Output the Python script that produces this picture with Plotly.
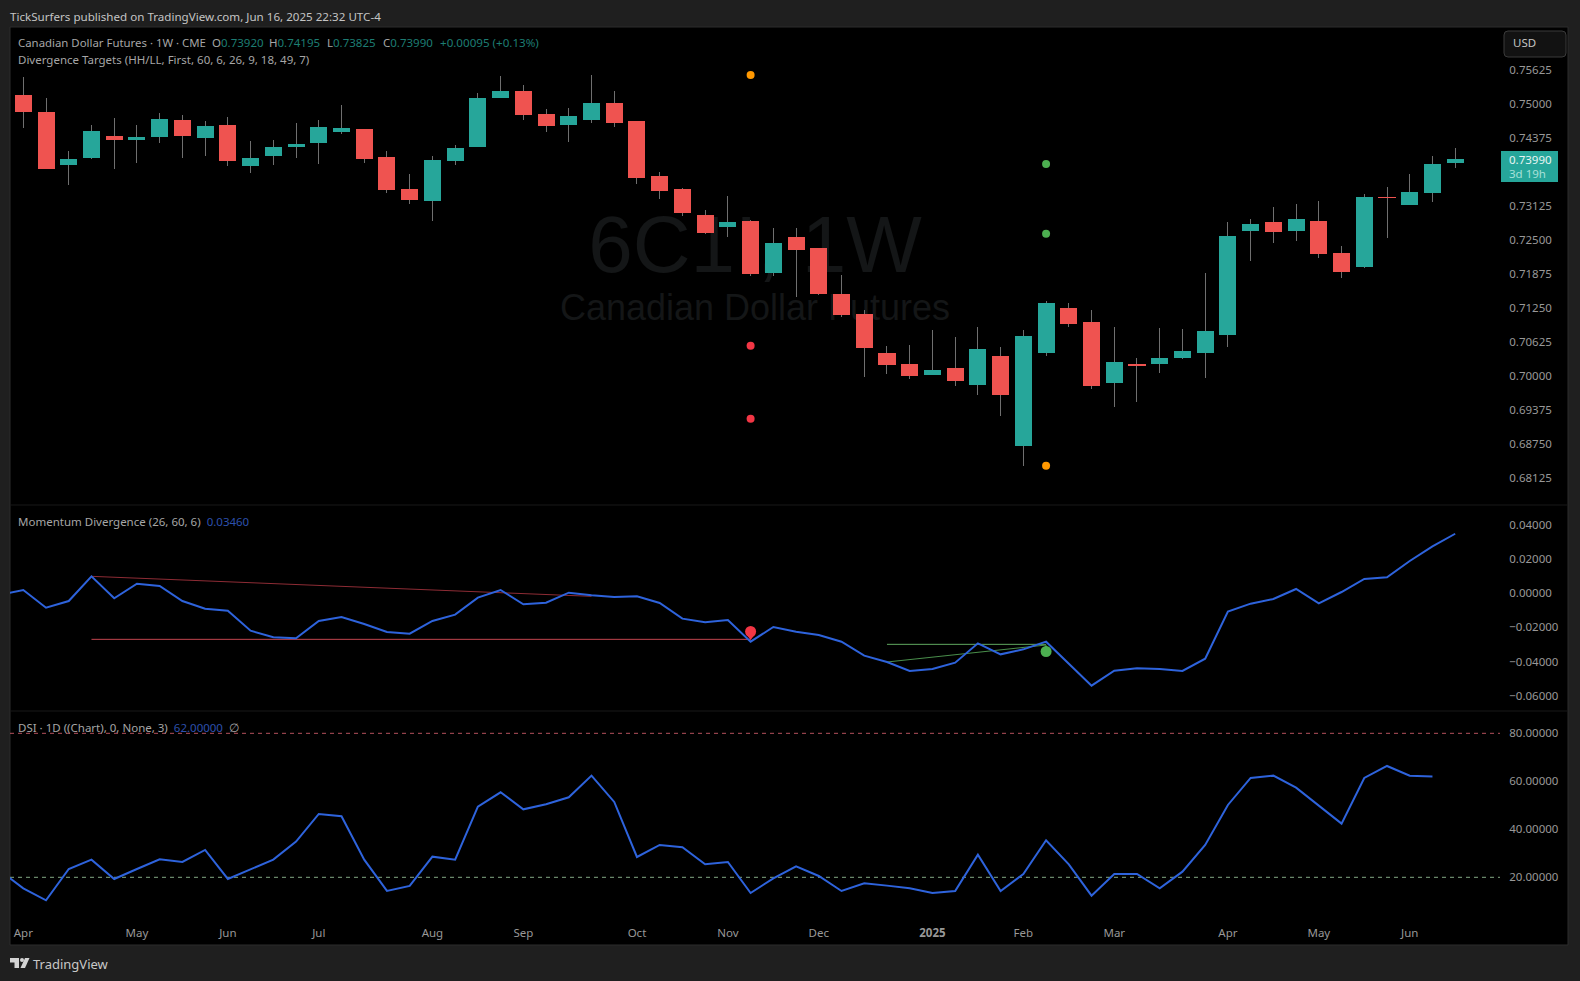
import pandas as pd
import plotly.graph_objects as go

W = 1580
H = 981
FONT = "Noto Sans"
RED = "#ef5350"
TEAL = "#26a69a"
BLUE = "#2e63dc"
TICK = "#989898"
LABEL = "#a6a6a6"
VALUE = "#1d7d73"

weeks = pd.date_range("2024-04-01", periods=64, freq="7D")
one_before = pd.Timestamp("2024-03-25")

opens = [.75165,.74853,.73879,.74007,.74412,.74338,.74393,.74706,.74375,.74614,.73860,.74044,.74210,.74283,.74485,.74540,
         .74026,.73438,.73217,.73952,.74210,.75110,.75239,.74816,.74614,.74706,.75018,.74688,.73676,.73438,.72960,.72739,
         .72849,.71893,.72555,.72353,.71507,.71140,.70423,.70221,.70018,.70147,.69835,.70368,.68713,.70423,.71250,.70993,
         .69871,.70221,.70221,.70331,.70423,.70754,.72665,.72831,.72665,.72849,.72261,.72004,.73290,.73143,.73364,.73920]
highs = [.75496,.75110,.74136,.74614,.74743,.74614,.74835,.74798,.74688,.74761,.74320,.74338,.74651,.74706,.74982,.74540,
         .74136,.73713,.74044,.74246,.75202,.75515,.75349,.74908,.74926,.75533,.75239,.74688,.73750,.73456,.73051,.73309,
         .72868,.72721,.72721,.72353,.71857,.71213,.70552,.70570,.70846,.70717,.70901,.70533,.70846,.71379,.71342,.71213,
         .70901,.70331,.70882,.70864,.71893,.72831,.72886,.73107,.73162,.73217,.72390,.73346,.73474,.73713,.74044,.74195]
lows = [.74559,.73805,.73511,.73989,.73805,.73915,.74283,.74007,.74044,.73860,.73732,.73879,.74007,.73897,.74449,.73915,
        .73364,.73162,.72849,.73879,.74210,.75110,.74706,.74485,.74301,.74651,.74577,.73529,.73254,.72941,.72611,.72555,
        .71838,.71838,.71452,.71489,.71085,.69982,.70037,.69945,.70018,.69816,.69651,.69265,.68346,.70368,.70901,.69761,
        .69430,.69522,.70055,.70313,.69963,.70533,.72114,.72445,.72482,.72169,.71801,.71985,.72537,.73143,.73199,.73825]
closes = [.74853,.73805,.73989,.74504,.74338,.74393,.74724,.74412,.74596,.73952,.74007,.74210,.74265,.74577,.74559,.73989,
          .73419,.73235,.73971,.74191,.75110,.75239,.74798,.74596,.74779,.75018,.74651,.73640,.73401,.72996,.72629,.72831,
          .71875,.72445,.72316,.71507,.71121,.70515,.70202,.70000,.70110,.69908,.70496,.69651,.70735,.71342,.70956,.69816,
          .70257,.70184,.70331,.70460,.70827,.72574,.72794,.72647,.72886,.72243,.71912,.73290,.73272,.73382,.73897,.73990]

# first value of both indicators belongs to the week before the chart starts
momentum = [-.00097,.00175,-.00857,-.00467,.00973,-.00311,.00545,.00409,-.00467,-.00915,-.01032,-.02200,-.02589,-.02648,
            -.01635,-.01402,-.01810,-.02278,-.02375,-.01635,-.01265,-.00273,.00175,-.00662,-.00565,.00019,-.00136,-.00234,
            -.00195,-.00584,-.01499,-.01713,-.01577,-.02842,-.01986,-.02258,-.02453,-.02842,-.03660,-.04030,-.04555,-.04438,
            -.04069,-.02940,-.03582,-.03290,-.02842,-.04108,-.05412,-.04536,-.04400,-.04438,-.04555,-.03835,-.01090,-.00623,
            -.00350,.00234,-.00603,.00058,.00818,.00915,.01869,.02725,.03460]
dsi = [22.5,15.42,10.42,23.47,27.36,19.31,23.47,27.5,26.39,31.39,19.31,23.47,27.36,34.86,46.39,45.42,27.36,14.31,16.39,
       28.61,27.36,49.44,55.42,48.33,50.42,53.33,62.36,51.39,28.47,33.47,32.5,25.42,26.39,13.47,19.58,24.58,20.56,14.31,
       17.5,16.53,15.42,13.47,14.31,29.44,14.31,21.39,35.42,25.42,12.36,21.39,21.39,15.42,22.36,33.47,50.14,61.39,62.36,
       57.36,49.72,42.36,61.39,66.39,62.36,62.0]

price_ticks = [.75625,.75,.74375,.73125,.725,.71875,.7125,.70625,.7,.69375,.6875,.68125]
momentum_ticks = [.04,.02,0,-.02,-.04,-.06]
dsi_ticks = [80,60,40,20]
month_ticks = ["2024-04-01","2024-05-06","2024-06-03","2024-07-01","2024-08-05","2024-09-02","2024-10-07","2024-11-04",
               "2024-12-02","2025-01-06","2025-02-03","2025-03-03","2025-04-07","2025-05-05","2025-06-02"]
month_labels = ["Apr","May","Jun","Jul","Aug","Sep","Oct","Nov","Dec","<b>2025</b>","Feb","Mar","Apr","May","Jun"]

# signal dots on the price pane
dot_weeks = ["2024-11-11","2024-11-11","2024-11-11","2025-02-10","2025-02-10","2025-02-10"]
dot_prices = [.75533,.70557,.69215,.73897,.72616,.68351]
dot_colors = ["#ff9800","#f23645","#f23645","#4caf50","#4caf50","#ff9800"]

# divergence lines on the momentum pane
red_slope_x = ["2024-04-22","2024-09-23"]
red_slope_y = [.00973,-.00195]
red_flat_x = ["2024-04-22","2024-11-11"]
red_flat_y = [-.02706,-.02706]
green_flat_x = ["2024-12-23","2025-02-10"]
green_flat_y = [-.02998,-.02998]
green_slope_x = ["2024-12-23","2025-02-10"]
green_slope_y = [-.04030,-.03037]

x_start = weeks[0] - pd.Timedelta(days=4.095)
x_end = weeks[0] + pd.Timedelta(days=454.8)
x_range = [x_start, x_end]
week_ms = 7 * 24 * 3600 * 1000


def px(x):
    return x / W


def py(y):
    return 1 - y / H


def text(x, y, s, size=11.5, color=LABEL, anchor="left", **kw):
    return dict(x=px(x), y=py(y), xref="paper", yref="paper", text=s, showarrow=False, xanchor=anchor,
                yanchor="middle", font=dict(family=FONT, size=size, color=color), **kw)


def logo_path(points):
    return "M" + " L".join(f"{px(a)},{py(b)}" for a, b in points) + " Z"


def rounded_box(x0, y0, x1, y1, r):
    return (f"M{px(x0 + r)},{py(y0)} L{px(x1 - r)},{py(y0)} Q{px(x1)},{py(y0)} {px(x1)},{py(y0 + r)} "
            f"L{px(x1)},{py(y1 - r)} Q{px(x1)},{py(y1)} {px(x1 - r)},{py(y1)} "
            f"L{px(x0 + r)},{py(y1)} Q{px(x0)},{py(y1)} {px(x0)},{py(y1 - r)} "
            f"L{px(x0)},{py(y0 + r)} Q{px(x0)},{py(y0)} {px(x0 + r)},{py(y0)} Z")


fig = go.Figure()

# candles: wick bars first, body bars on top
# alpha just under 1 makes plotly round thin bars to one pixel instead of widening them
body_colors = [TEAL if c >= o else RED for o, c in zip(opens, closes)]
fig.add_trace(go.Bar(x=weeks, y=[h - l for h, l in zip(highs, lows)], base=lows, width=week_ms * 0.044,
                     marker=dict(color="rgba(112,112,112,0.99)", line_width=0)))
fig.add_trace(go.Bar(x=weeks, y=[abs(c - o) for o, c in zip(opens, closes)], base=[min(o, c) for o, c in zip(opens, closes)],
                     width=week_ms * 0.75, marker=dict(color=body_colors, line_width=0)))
fig.add_trace(go.Scatter(x=dot_weeks, y=dot_prices, mode="markers", marker=dict(size=8, color=dot_colors)))

line_x = [one_before] + list(weeks)
for lx, ly, col in [(red_slope_x, red_slope_y, "#8e2c35"), (red_flat_x, red_flat_y, "#c2454f"),
                    (green_flat_x, green_flat_y, "#5fa860"), (green_slope_x, green_slope_y, "#4a8f4c")]:
    fig.add_trace(go.Scatter(x=lx, y=ly, mode="lines", line=dict(color=col, width=1), xaxis="x2", yaxis="y2"))
fig.add_trace(go.Scatter(x=line_x, y=momentum, mode="lines", line=dict(color=BLUE, width=2), xaxis="x2", yaxis="y2"))

# teardrop signals: a circle with a triangle for the tip
for wk, y_val, symbol, size, col in [("2024-11-11", -.02248, "circle", 11, "#f23645"),
                                     ("2024-11-11", -.02511, "triangle-down", 8, "#f23645"),
                                     ("2025-02-10", -.03416, "circle", 11, "#4caf50"),
                                     ("2025-02-10", -.03270, "triangle-up", 8, "#4caf50")]:
    fig.add_trace(go.Scatter(x=[wk], y=[y_val], mode="markers", xaxis="x2", yaxis="y2",
                             marker=dict(symbol=symbol, size=size, color=col, line=dict(width=0))))

for level, col in [(80, "#b5505c"), (20, "#83a884")]:
    fig.add_trace(go.Scatter(x=x_range, y=[level, level], mode="lines", xaxis="x3", yaxis="y3",
                             line=dict(color=col, width=1, dash="4px,4px")))
fig.add_trace(go.Scatter(x=line_x[:len(dsi)], y=dsi, mode="lines", line=dict(color=BLUE, width=2), xaxis="x3", yaxis="y3"))

x_dom = [px(10), px(1500)]
y_style = dict(side="right", showgrid=False, zeroline=False, showline=False, ticks="outside", ticklen=6,
               tickcolor="rgba(0,0,0,0)", tickfont=dict(family=FONT, size=11.5, color=TICK))
x_style = dict(type="date", range=x_range, domain=x_dom, showgrid=False, zeroline=False, showline=False)

shapes = [
    dict(type="rect", xref="paper", yref="paper", x0=px(10), x1=px(1568), y0=py(945), y1=py(27), layer="below",
         fillcolor="#000000", line=dict(color="#2c2c2c", width=1)),
    dict(type="rect", xref="paper", yref="paper", x0=px(559), x1=px(951), y0=py(271), y1=py(201), layer="below",
         line_width=0, fillcolor="rgba(0,0,0,0)",
         label=dict(text="6C1!, 1W", textposition="middle center", font=dict(family="Liberation Sans", size=80, color="#141617"))),
    dict(type="rect", xref="paper", yref="paper", x0=px(559), x1=px(951), y0=py(327), y1=py(281), layer="below",
         line_width=0, fillcolor="rgba(0,0,0,0)",
         label=dict(text="Canadian Dollar Futures", textposition="middle center", font=dict(family="Liberation Sans", size=36, color="#141617"))),
    dict(type="line", xref="paper", yref="paper", x0=px(10), x1=px(1568), y0=py(505), y1=py(505), layer="below", line=dict(color="#181818", width=1)),
    dict(type="line", xref="paper", yref="paper", x0=px(10), x1=px(1568), y0=py(711), y1=py(711), layer="below", line=dict(color="#181818", width=1)),
    # USD button
    dict(type="path", xref="paper", yref="paper", path=rounded_box(1504, 31, 1566, 57, 4), layer="below",
         fillcolor="#121212", line=dict(color="#3a3a3a", width=1)),
    # last price tag
    dict(type="rect", xref="paper", yref="paper", x0=px(1501), x1=px(1558), y0=py(182), y1=py(151), layer="above",
         fillcolor=TEAL, line_width=0),
    # TradingView logo
    dict(type="path", xref="paper", yref="paper", layer="above", fillcolor="#d4d4d4", line_width=0,
         path=logo_path([(10, 958), (19, 958), (19, 968), (14.5, 968), (14.5, 962.5), (10, 962.5)])),
    dict(type="path", xref="paper", yref="paper", layer="above", fillcolor="#d4d4d4", line_width=0,
         path=logo_path([(25, 958), (29.5, 958), (25, 968), (20.5, 968)])),
    dict(type="circle", xref="paper", yref="paper", x0=px(20), x1=px(24), y0=py(962), y1=py(958), layer="above",
         fillcolor="#d4d4d4", line_width=0),
]

gap = "&nbsp;&nbsp;"
annotations = [
    text(8, 16, "TickSurfers published on TradingView.com, Jun 16, 2025 22:32 UTC-4", size=11.6, color="#c4c4c4"),
    text(16, 43, "Canadian Dollar Futures · 1W · CME", size=11.4),
    text(16, 59, "Divergence Targets (HH/LL, First, 60, 6, 26, 9, 18, 49, 7)"),
    text(16, 521, f'Momentum Divergence (26, 60, 6){gap}<span style="color:#2d50ad">0.03460</span>'),
    text(16, 727, f'DSI · 1D ((Chart), 0, None, 3){gap}<span style="color:#2d50ad">62.00000</span>{gap}∅'),
    text(1511, 43, "USD", color="#c4c4c4"),
    text(1507, 159, "0.73990", color="#e8f5f3"),
    text(1507, 173, "3d 19h", color="#a6e0d9"),
    text(31, 964, "TradingView", size=13, color="#c8c8c8"),
]
for lx, letter, value in [(210, "O", "0.73920"), (267, "H", "0.74195"), (325, "L", "0.73825"), (381, "C", "0.73990")]:
    annotations.append(text(lx, 43, f'{letter}<span style="color:{VALUE}">{value}</span>', size=11.5))
annotations.append(text(438, 43, "+0.00095 (+0.13%)", size=11.6, color=VALUE))

fig.update_layout(
    width=W, height=H, margin=dict(l=0, r=0, t=0, b=0), paper_bgcolor="#1f1f1f", plot_bgcolor="rgba(0,0,0,0)",
    showlegend=False, barmode="overlay", bargap=0, shapes=shapes, annotations=annotations,
    xaxis=dict(anchor="y", showticklabels=False, **x_style),
    xaxis2=dict(anchor="y2", showticklabels=False, **x_style),
    xaxis3=dict(anchor="y3", tickmode="array", tickvals=month_ticks, ticktext=month_labels, ticks="",
                tickfont=dict(family=FONT, size=11.5, color=TICK), **x_style),
    yaxis=dict(domain=[py(505), py(27)], anchor="x", range=[.67629, .76415], tickmode="array", tickvals=price_ticks,
               tickformat=".5f", **y_style),
    yaxis2=dict(domain=[py(711), py(505)], anchor="x2", range=[-.06891, .05139], tickmode="array", tickvals=momentum_ticks,
                tickformat=".5f", **y_style),
    yaxis3=dict(domain=[py(924), py(711)], anchor="x3", range=[.54, 89.3], tickmode="array", tickvals=dsi_ticks,
                tickformat=".5f", **y_style),
)

fig.write_html("out.html", config=dict(displayModeBar=False),
               post_script="document.body.style.margin='0';document.body.style.overflow='hidden';")
